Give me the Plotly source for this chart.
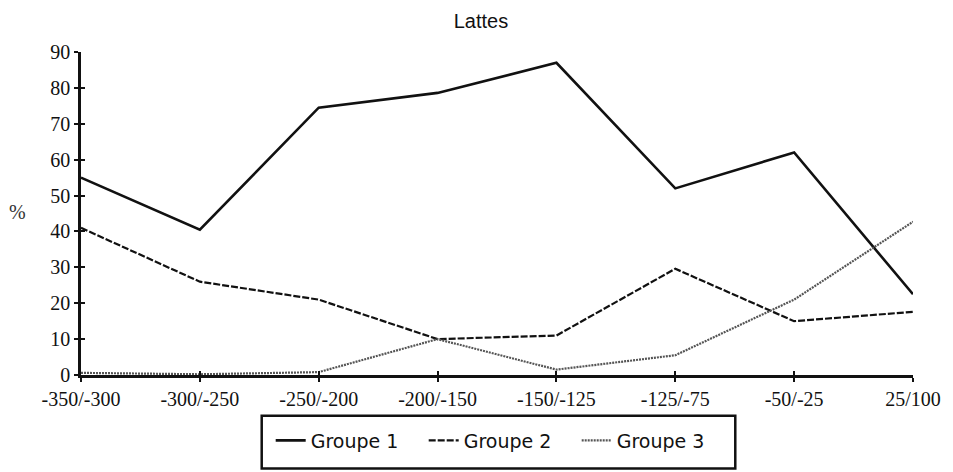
import plotly.graph_objects as go

categories = ["-350/-300", "-300/-250", "-250/-200", "-200/-150", "-150/-125", "-125/-75", "-50/-25", "25/100"]
groupe1 = [55, 40.5, 74.5, 78.6, 87, 52, 62, 22.5]
groupe2 = [41, 26, 21, 10, 11, 29.6, 15, 17.6]
groupe3 = [0.6, 0.2, 0.8, 10, 1.5, 5.5, 21, 42.7]
y_ticks = [0, 10, 20, 30, 40, 50, 60, 70, 80, 90]

xs = list(range(len(categories)))

fig = go.Figure()
fig.add_trace(go.Scatter(x=xs, y=groupe1, mode="lines", name="Groupe 1",
                         line=dict(color="#111111", width=2.6)))
fig.add_trace(go.Scatter(x=xs, y=groupe2, mode="lines", name="Groupe 2",
                         line=dict(color="#111111", width=2.2, dash="7px,2px")))
fig.add_trace(go.Scatter(x=xs, y=groupe3, mode="lines", name="Groupe 3",
                         line=dict(color="#555555", width=2.2, dash="2px,1px")))
# invisible trace to carry overlay axes (for crossing ticks)
fig.add_trace(go.Scatter(x=[xs[0]], y=[y_ticks[0]], xaxis="x2", yaxis="y2",
                         mode="markers", marker=dict(opacity=0), showlegend=False,
                         hoverinfo="skip"))

SERIF = "Liberation Serif, Times New Roman, Times, serif"
serif = dict(family=SERIF, size=20, color="#111111")

fig.update_layout(
    width=945, height=464,
    margin=dict(l=73, r=34, t=44, b=95),
    paper_bgcolor="white", plot_bgcolor="white",
    title=dict(text="Lattes", x=0.5005, xref="container", xanchor="center",
               y=0.988, yref="container", yanchor="top",
               font=dict(family="Liberation Sans, Arial, Helvetica, sans-serif", size=20, color="#111111")),
    xaxis=dict(range=[0, len(categories) - 1], tickmode="array", tickvals=xs,
               ticktext=categories, showgrid=False, zeroline=False,
               showline=True, linecolor="#111111", linewidth=2.5,
               ticks="outside", ticklen=4, tickwidth=2, tickcolor="#111111",
               tickfont=serif),
    yaxis=dict(range=[0, 90], tickmode="array", tickvals=y_ticks,
               showgrid=False, zeroline=False,
               showline=True, linecolor="#111111", linewidth=2.5,
               ticks="outside", ticklen=4, tickwidth=2, tickcolor="#111111",
               tickfont=serif),
    xaxis2=dict(range=[0, len(categories) - 1], overlaying="x", tickmode="array",
                tickvals=xs, showticklabels=False, showgrid=False, zeroline=False,
                ticks="inside", ticklen=4, tickwidth=2, tickcolor="#111111",
                showline=False, side="bottom"),
    yaxis2=dict(range=[0, 90], overlaying="y", tickmode="array", tickvals=y_ticks,
                showticklabels=False, showgrid=False, zeroline=False,
                ticks="inside", ticklen=4, tickwidth=2, tickcolor="#111111",
                showline=False, side="left"),
    legend=dict(orientation="h", x=0.228, xanchor="left", y=-0.203, yanchor="middle",
                borderwidth=0, bgcolor="rgba(0,0,0,0)",
                font=dict(family="DejaVu Sans", size=19, color="#111111"),
                itemwidth=30, entrywidth=108, entrywidthmode="pixels"),
    showlegend=True,
    annotations=[dict(text="%", x=-0.0764, y=0.5046, xref="paper", yref="paper",
                      showarrow=False, xanchor="center", yanchor="middle",
                      font=dict(family=SERIF, size=20, color="#333333"))],
    shapes=[dict(type="rect", xref="paper", yref="paper",
                 x0=0.2172, x1=0.7864, y0=-0.2892, y1=-0.1262,
                 line=dict(color="#111111", width=2.5), fillcolor="rgba(0,0,0,0)",
                 layer="above")],
)

fig.write_html("out.html")
